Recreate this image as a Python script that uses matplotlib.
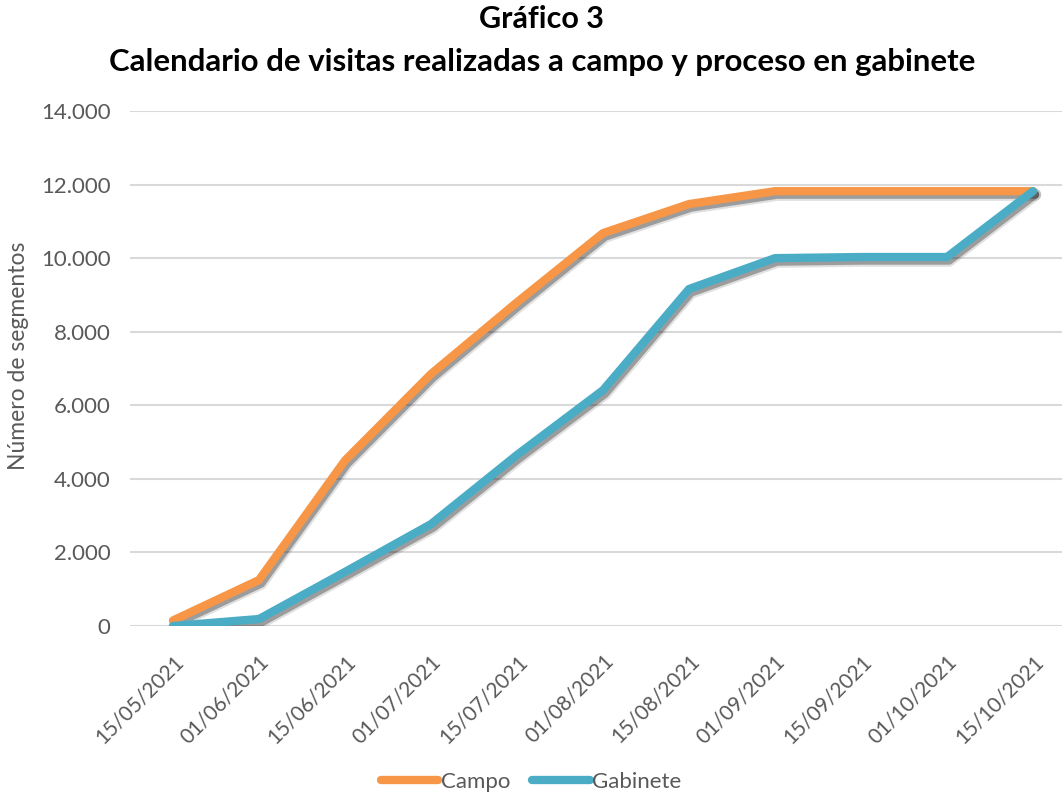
import numpy as np
import matplotlib
matplotlib.use('Agg')
import matplotlib.pyplot as plt
import matplotlib.patheffects as pe
from matplotlib.lines import Line2D

# dates (categories) and cumulative segments
fechas = ['15/05/2021', '01/06/2021', '15/06/2021', '01/07/2021', '15/07/2021',
          '01/08/2021', '15/08/2021', '01/09/2021', '15/09/2021', '01/10/2021',
          '15/10/2021']
campo = [150, 1250, 4500, 6850, 8800, 10680, 11470, 11820, 11820, 11820, 11820]
gabinete = [0, 190, 1470, 2770, 4650, 6410, 9160, 10000, 10030, 10030, 11820]

yticks = [0, 2000, 4000, 6000, 8000, 10000, 12000, 14000]

col_campo = '#F79646'
col_gab = '#4BACC6'
txt = '#595959'

plt.rcParams['font.family'] = ['Lato', 'DejaVu Sans']

fig = plt.figure(figsize=(10.62, 7.94), dpi=100)
ax = fig.add_axes([130 / 1062, 1 - 626 / 794, 946 / 1062, (626 - 111) / 794])

x = np.arange(len(fechas))
# soft drop shadow, roughly like the office chart
shadow = [pe.SimpleLineShadow(offset=(1.5, -2.5), shadow_color='k', alpha=0.12, linewidth=9),
          pe.SimpleLineShadow(offset=(1.5, -2.5), shadow_color='k', alpha=0.3),
          pe.Normal()]
ax.plot(x, campo, color=col_campo, lw=6, solid_capstyle='round', solid_joinstyle='round',
        path_effects=shadow, zorder=3)
ax.plot(x, gabinete, color=col_gab, lw=6, solid_capstyle='round', solid_joinstyle='round',
        path_effects=shadow, zorder=4)

ax.set_xlim(-0.5, len(fechas) - 0.5)
ax.set_ylim(0, 14000)
ax.set_yticks(yticks)
ax.set_yticklabels(['{:,}'.format(v).replace(',', '.') for v in yticks])
ax.set_xticks(x)
ax.set_xticklabels(fechas, rotation=45, ha='right', va='top', rotation_mode='anchor')
ax.tick_params(axis='both', length=0, labelcolor=txt)
ax.tick_params(axis='y', pad=14, labelsize=16)
ax.tick_params(axis='x', pad=18, labelsize=15)
ax.grid(axis='y', color='#D9D9D9', lw=1.5)
ax.set_axisbelow(True)
for s in ax.spines.values():
    s.set_visible(False)

fig.text(19 / 1062, 1 - 356 / 794, 'Número de segmentos', rotation=90, ha='center', va='center',
         fontsize=16.5, color=txt)

fig.text(541 / 1062, 1 - 19 / 794, 'Gráfico 3', ha='center', va='center', fontsize=22,
         fontweight='bold', color='black')
fig.text(542 / 1062, 1 - 62 / 794, 'Calendario de visitas realizadas a campo y proceso en gabinete',
         ha='center', va='center', fontsize=22.4, fontweight='bold', color='black')

handles = [Line2D([], [], color=col_campo, lw=6, solid_capstyle='round'),
           Line2D([], [], color=col_gab, lw=6, solid_capstyle='round')]
fig.legend(handles, ['Campo', 'Gabinete'], loc='center', bbox_to_anchor=(0.5, 1 - 782 / 794),
           ncol=2, frameon=False, fontsize=16, labelcolor=txt, handlelength=2.6,
           handletextpad=0.1, columnspacing=1.0, borderpad=0)

fig.savefig('out.png', dpi=100)
